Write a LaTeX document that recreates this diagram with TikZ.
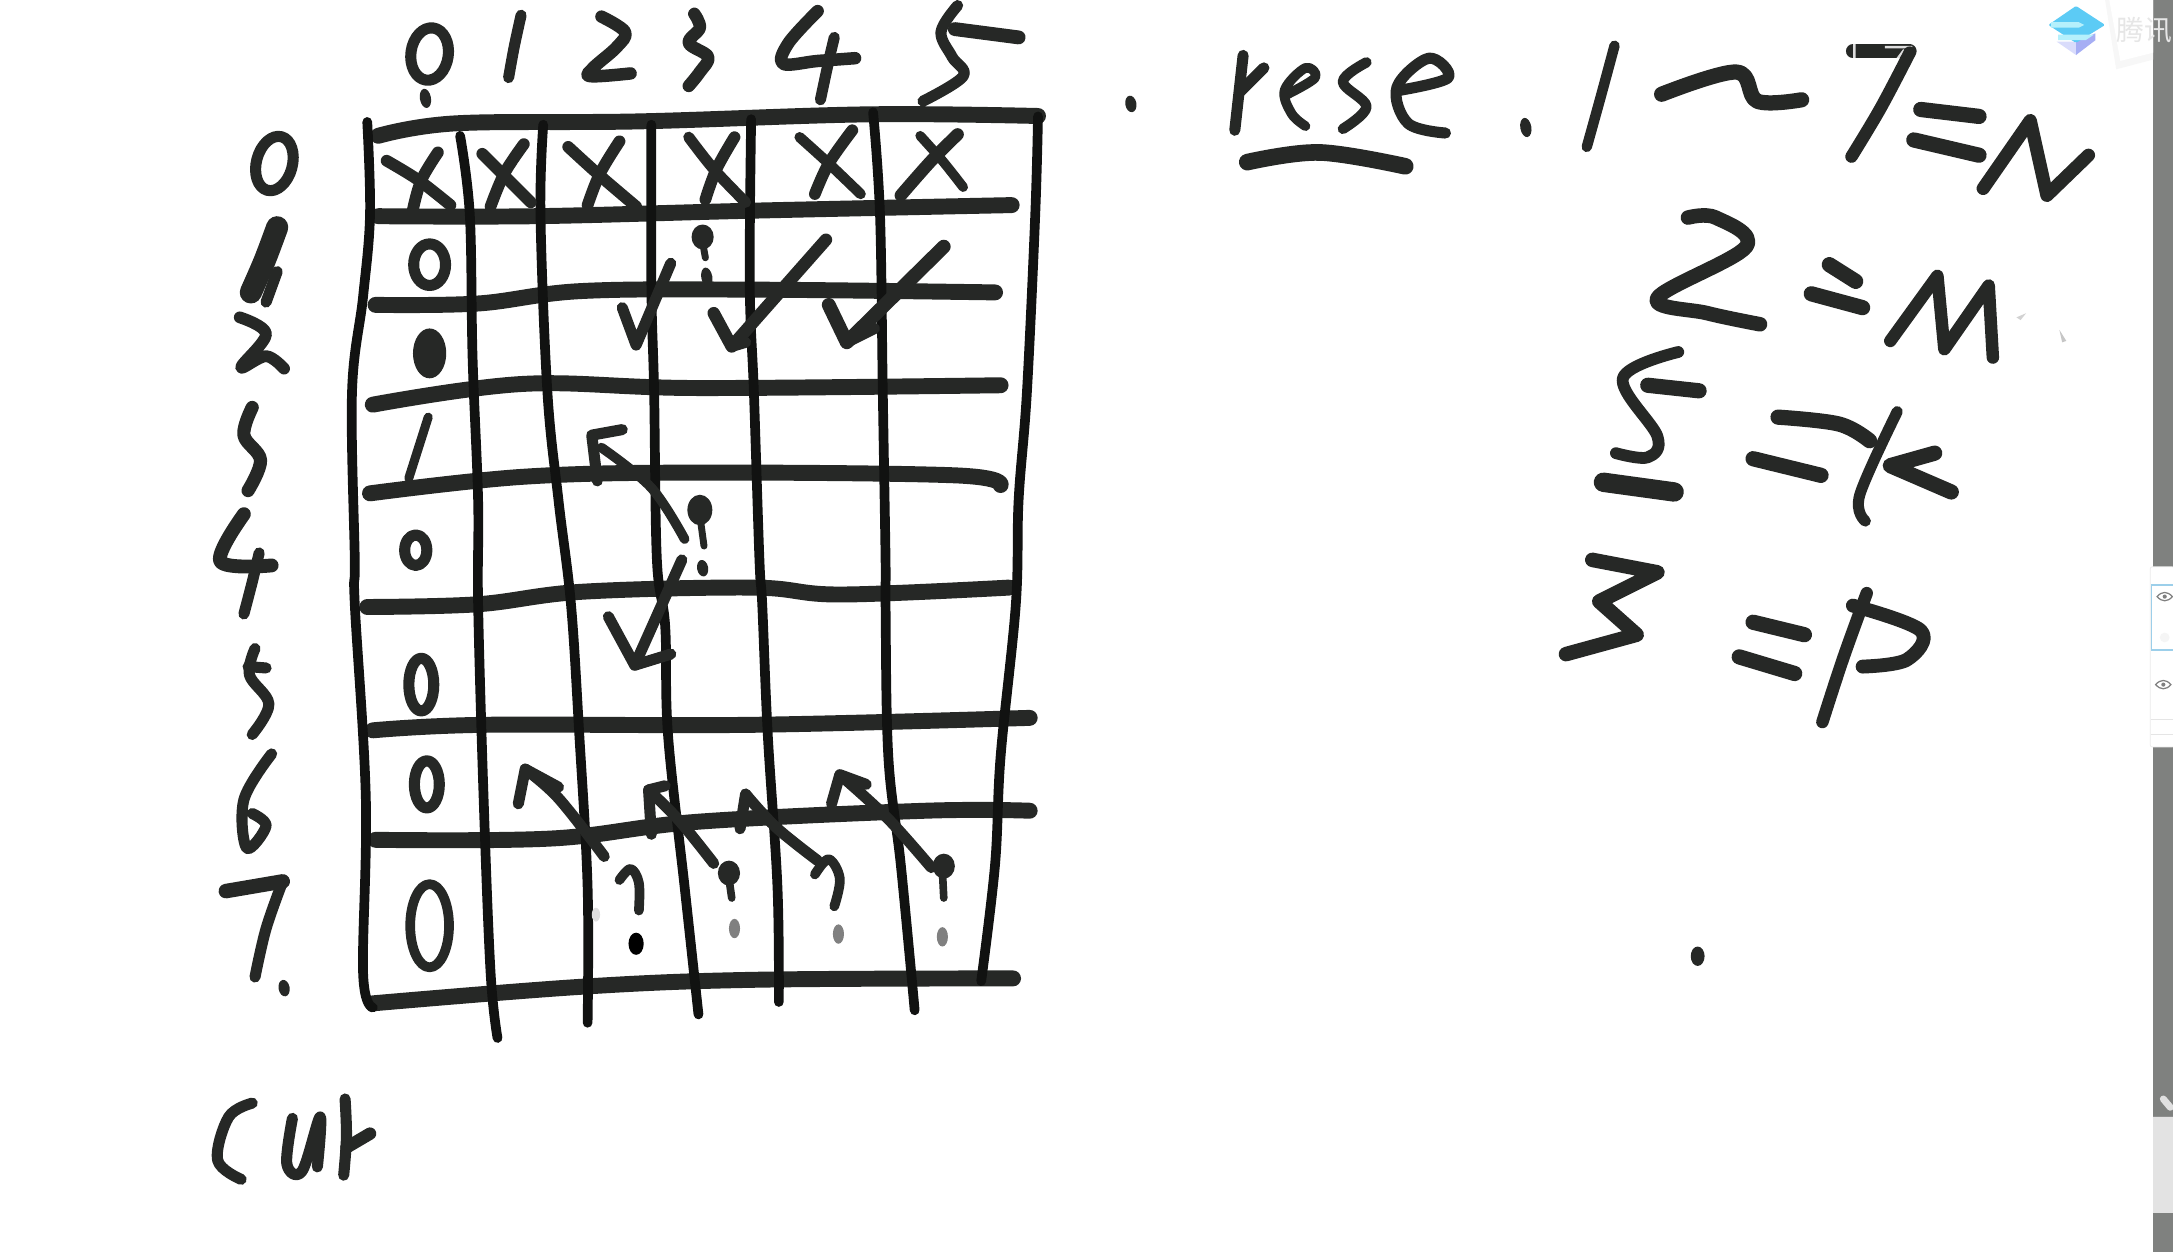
\documentclass[tikz,border=0pt]{standalone}
\usepackage{fontspec}
\newfontfamily\cjkf{Noto Sans CJK SC}
\definecolor{ink}{HTML}{262826}
\definecolor{inkd}{HTML}{111211}
\definecolor{bar}{HTML}{7F817F}
\definecolor{logoa}{HTML}{5CCBF5}
\definecolor{logob}{HTML}{A6AEF4}
\definecolor{logoc}{HTML}{D9DCFB}
\definecolor{logol}{HTML}{B5F0FC}
\definecolor{selb}{HTML}{9CCFEA}
\definecolor{wmark}{HTML}{E6E6E6}
\tikzset{
  pen/.style={ink,line width=8pt,line cap=round,line join=round},
  hline/.style={pen,line width=11.5pt},
  vline/.style={inkd,line width=7pt,line cap=round,line join=round},
}
\newcommand\st[2][]{\draw[pen,#1] plot[smooth,tension=.6] coordinates {#2};}
\newcommand\plx[2][]{\draw[pen,#1] plot coordinates {#2};}
\newcommand\dotm[4][ink]{\fill[#1] (#2,#3) ellipse [x radius=4pt,y radius=#4pt,rotate=10];}
\begin{document}
\begin{tikzpicture}[x=1pt,y=-1pt]
\useasboundingbox (0,0) rectangle (1568,903.4);
\fill[white] (0,0) rectangle (1568,903.4);

% ---- horizontal grid lines
\st[hline]{(273,98)(329,89)(461,87.6)(627,82.5)(749,83.7)}
\st[hline]{(273,156)(387,156)(544,152)(730,148)}
\st[hline]{(271,220)(345,219)(420,210)(544,209)(718,211)}
\st[hline]{(269,292)(378,277)(503,280)(722,278)}
\st[hline]{(267,356)(378,344)(503,341)(689,343)(722,350)}
\st[hline]{(265,438)(345,436)(420,427)(544,424)(606,429)(728,424)}
\st[hline]{(269,527)(350,523)(544,523)(743,518)}
\st[hline]{(271,606)(399,605)(503,593)(668,585)(743,585)}
\st[hline]{(269,724)(420,712)(544,707)(731,706)}

% ---- vertical grid lines
\st[vline]{(265,88)(267,155)(262,214)(254,283)(256,404)(256,436)(264,577)(262,702)(269,727)}
\st[vline]{(332,98)(339,155)(341,258)(345,361)(345,436)(349,577)(354,702)(359,749)}
\st[vline]{(392,90)(390,155)(395,283)(403,361)(412,436)(418,530)(424,640)(424,738)}
\st[vline]{(470,90)(470,206)(472,283)(474,404)(480,452)(482,530)(494,640)(504,732)}
\st[vline]{(542,86)(541,206)(544,283)(548,404)(550,436)(554,530)(561,640)(562,723)}
\st[vline]{(630,81)(635,155)(637,283)(639,404)(639,436)(641,546)(650,624)(660,729)}
\st[vline]{(749,84)(747,155)(741,283)(735,361)(733,436)(722,546)(718,624)(708,708)}

% ---- column headings
\draw[pen] (310,39) ellipse [x radius=13.5pt,y radius=19pt,rotate=-8];
\dotm{307}{71}{7}
\st{(376,11)(371,34)(367,56)}
\st[line width=9pt]{(434,12)(451,23)(445,34)(428,49)(426,55)(455,53)}
\st[line width=9pt]{(501,10)(505,20)(497,31)(511,41)(505,52)(497,62)}
\st[line width=9pt]{(590,8)(569,31)(565,46)(590,44)(617,42)}
\st{(602,27)(598,44)(592,72)}
\st{(691,4)(679,23)(687,41)(695,55)(666,73)}
\st[line width=10pt]{(689,21)(735,27)}

% ---- row headings
\draw[pen] (198,118) ellipse [x radius=13pt,y radius=20pt,rotate=-15];
\st[line width=16pt]{(200,164)(191,188)(181,211)}
\st{(200,196)(192,218)}
\st[line width=8.5pt]{(173,229)(192,241)(174,265)(192,257)(205,266)}
\st[line width=9.5pt]{(182,294)(176,314)(188,332)(179,354)}
\st[line width=10pt]{(176,371)(159,405)(196,408)}
\st{(187,399)(182,420)(176,443)}
\st{(184,468)(180,487)(194,508)(182,530)}
\st{(179,481)(192,482)}
\st[line width=8pt]{(196,544)(176,577)(178,612)(192,596)(182,587)}
\st[line width=10.5pt]{(163,643)(204,636)}
\st{(204,636)(192,670)(184,705)}
\dotm{205}{713}{6}

% ---- X marks of row 0
\st[line width=8.5pt]{(279,116)(302,130)(325,148)}
\st[line width=8.5pt]{(316,110)(304,130)(298,151)}
\st[line width=8.5pt]{(348,111)(365,128)(383,146)}
\st[line width=8.5pt]{(378,104)(364,125)(354,149)}
\st[line width=8.5pt]{(410,106)(432,126)(459,149)}
\st[line width=8.5pt]{(447,102)(433,125)(424,148)}
\st[line width=8pt]{(497,99)(515,122)(538,146)}
\st[line width=8.5pt]{(530,99)(517,122)(509,144)}
\st[line width=7.5pt]{(577,99)(598,118)(621,140)}
\st[line width=8.5pt]{(615,94)(598,118)(588,140)}
\st[line width=7pt]{(664,98)(680,116)(695,135)}
\st[line width=9pt]{(691,97)(672,116)(650,141)}

% ---- first column values
\draw[pen] (310,191) ellipse [x radius=11.5pt,y radius=15pt];
\fill[ink] (310,255) ellipse [x radius=12pt,y radius=18pt];
\st[line width=6.5pt]{(309,301)(302,323)(295,345)}
\draw[pen] (300,397) ellipse [x radius=8pt,y radius=11pt];
\draw[pen] (304,494) ellipse [x radius=9pt,y radius=19pt];
\draw[pen] (308,566) ellipse [x radius=9pt,y radius=17pt];
\draw[pen,line width=7pt] (310,668) ellipse [x radius=14pt,y radius=30pt];

% ---- question marks and arrows, rows 1 to 2
\fill[ink] (507,171) ellipse [x radius=8pt,y radius=9pt];
\st[line width=5pt]{(507,175)(509,186)}
\dotm{510}{200}{7}
\plx{(484,190)(459,249)(449,222)}
\plx[line width=9pt]{(596,173)(528,250)(515,226)}
\st{(528,250)(538,247)}
\plx[line width=10pt]{(681,178)(611,247)(598,220)}
\st{(611,247)(631,237)}

% ---- arrows, rows 3 to 5
\st[line width=7pt]{(494,389)(470,352)(434,323)}
\plx{(431,347)(427,314)(449,310)}
\fill[ink] (505,368) ellipse [x radius=9pt,y radius=11pt];
\st[line width=5pt]{(505,372)(508,394)}
\dotm{507}{410}{6}
\plx{(492,404)(458,480)(439,445)}
\st{(458,480)(484,472)}

% ---- arrows, rows 6 to 7
\st[line width=8pt]{(436,618)(403,576)(379,555)}
\plx{(374,580)(379,555)(403,568)}
\st[line width=8pt]{(515,623)(490,592)(468,570)}
\plx{(470,602)(468,570)(480,567)}
\st[line width=8pt]{(590,621)(560,597)(538,573)}
\plx{(534,598)(538,573)}
\st[line width=8pt]{(672,626)(640,590)(606,559)}
\plx{(600,580)(606,559)(625,566)}

% ---- question marks, row 7
\st[line width=7pt]{(447,635)(455,627)(461,637)(461,657)}
\fill[black] (459,681) ellipse [x radius=5.5pt,y radius=8pt];
\fill[ink] (526,630) ellipse [x radius=8pt,y radius=9pt];
\st[line width=5.5pt]{(526,634)(528,648)}
\fill[gray] (530,670) ellipse [x radius=4pt,y radius=7pt];
\st[line width=7pt]{(588,631)(598,620)(606,634)(602,654)}
\fill[gray] (605,674) ellipse [x radius=4pt,y radius=7pt];
\fill[ink] (681,625) ellipse [x radius=8pt,y radius=9pt];
\st[line width=5.5pt]{(680,628)(681,648)}
\fill[gray] (680,676) ellipse [x radius=4pt,y radius=7pt];
\fill[gray!25] (430,660) ellipse [x radius=3pt,y radius=5pt];

% ---- cur
\st{(182,796)(165,806)(157,837)(174,851)}
\st{(211,807)(207,840)(218,845)(231,806)(229,842)}
\st{(249,793)(250,820)(248,848)}
\st[line width=9pt]{(250,828)(267,818)}

% ---- rese
\dotm{816}{75}{6}
\st{(897,40)(891,94)}
\st{(895,66)(912,49)}
\st[line width=7pt]{(929,68)(949,56)(942,49)(927,65)(932,82)(942,91)}
\st[line width=7.5pt]{(986,45)(969,59)(986,77)(969,93)}
\st{(1011,65)(1045,56)(1031,42)(1008,63)(1016,89)(1043,96)}
\st[line width=12pt]{(900,117)(952,110)(1014,120)}
\dotm{1101}{92}{7}

% ---- 1~7=n
\st[line width=7.5pt]{(1165,33)(1155,70)(1145,106)}
\st[line width=11pt]{(1199,68)(1253,52)(1268,73)(1300,72)}
\st[line width=10pt]{(1337,37)(1378,37)}
\draw[white,line width=1.8pt,opacity=.85] (1338,31) -- (1338,43) -- (1358,43) (1360,34) -- (1380,34) (1368,44) -- (1374,36);
\st[line width=9pt]{(1378,38)(1357,78)(1336,113)}
\st[line width=11pt]{(1386,79)(1428,84)}
\st[line width=11pt]{(1381,101)(1428,112)}
\plx[line width=9.5pt]{(1431,136)(1465,87)(1477,141)(1507,112)}

% ---- 2=m
\st[line width=10.5pt]{(1218,157)(1238,157)(1260,178)(1196,215)(1232,226)(1270,234)}
\st[line width=11pt]{(1320,191)(1339,203)}
\st[line width=11pt]{(1307,212)(1344,222)}
\plx[line width=9pt]{(1364,246)(1398,199)(1403,252)(1435,206)(1438,258)}

% ---- 5=k
\st[line width=8.5pt]{(1211,254)(1171,273)(1196,315)(1189,330)(1166,327)}
\st[line width=11pt]{(1189,278)(1226,282)}
\st[line width=14pt]{(1157,348)(1208,355)}
\st[line width=11pt]{(1283,301)(1327,306)(1349,318)}
\st[line width=11pt]{(1265,331)(1314,343)}
\st[line width=8pt]{(1369,297)(1342,357)(1346,376)}
\plx[line width=11pt]{(1396,327)(1364,336)(1408,355)}

% ---- 3=p
\plx[line width=10.5pt]{(1149,404)(1196,413)(1154,434)(1181,458)(1130,472)}
\st[line width=11pt]{(1265,449)(1302,458)}
\st[line width=11pt]{(1255,474)(1295,486)}
\st[line width=9pt]{(1347,428)(1330,475)(1315,521)}
\st[line width=10pt]{(1337,437)(1386,455)(1376,476)(1344,481)}
\fill[ink] (1225,690) ellipse [x radius=5pt,y radius=7pt];
\fill[gray!35] (1455,229) -- (1462,226) -- (1458,231) -- cycle;
\fill[gray!45] (1486,238) -- (1491,246) -- (1488,247) -- cycle;

% ---- video player chrome at the right edge
\fill[bar] (1553.6,0) rectangle (1568,903.4);
\fill[black!3] (1519,0) -- (1527,50) -- (1553.6,43) -- (1553.6,0) -- cycle;
\fill[white] (1522,0) -- (1530,44) -- (1553.6,38) -- (1553.6,0) -- cycle;
\node[text=wmark,font=\cjkf\fontsize{20pt}{20pt}\selectfont,anchor=west,inner sep=0pt] (mark) at (1527,22) {腾讯};
\fill[white,rounded corners=1.5pt,draw=black!8,line width=.5pt] (1551.5,409) rectangle (1569,539);
\draw[selb,line width=1pt,fill=white] (1552.5,422) rectangle (1569,469);
\draw[black!10,line width=.7pt] (1552,519) -- (1568,519) (1552,530) -- (1568,530);
\draw[gray,line width=.9pt] (1556.5,430.5) .. controls (1560,426.5) and (1564,426.5) .. (1567.5,430.5) .. controls (1564,434.5) and (1560,434.5) .. (1556.5,430.5) -- cycle;
\fill[gray] (1562,430.5) circle (1.5pt);
\draw[gray,line width=.9pt] (1555.5,494) .. controls (1559,490) and (1563,490) .. (1566.5,494) .. controls (1563,498) and (1559,498) .. (1555.5,494) -- cycle;
\fill[gray] (1561,494) circle (1.5pt);
\fill[black!4] (1562,460) circle (3.5pt);
% TV-shaped tab
\draw[white!88!black,line width=5pt,line cap=round] (1561,793) -- (1566,799);
\begin{scope}
\clip (0,0) rectangle (1568,903.4);
\fill[white,rounded corners=8pt] (1539,806) rectangle (1585,875);
\fill[white!89!black] (1553.6,806) rectangle (1568,875);
\end{scope}
% ---- logo
\fill[logoc] (1484,30) -- (1498,39.7) -- (1506,30) -- cycle;
\fill[logob] (1498,39.7) -- (1512,29) -- (1512,24) -- (1498,30) -- cycle;
\fill[logoa,rounded corners=1pt] (1478,18) -- (1498,4.3) -- (1519,18) -- (1498,31) -- cycle;
\fill[logol] (1480,16) -- (1500,16) -- (1504,18) -- (1500,20) -- (1480,20) -- cycle;
\fill[logol] (1485,25) -- (1511,25) -- (1505,29) -- (1485,29) -- cycle;
\end{tikzpicture}
\end{document}
